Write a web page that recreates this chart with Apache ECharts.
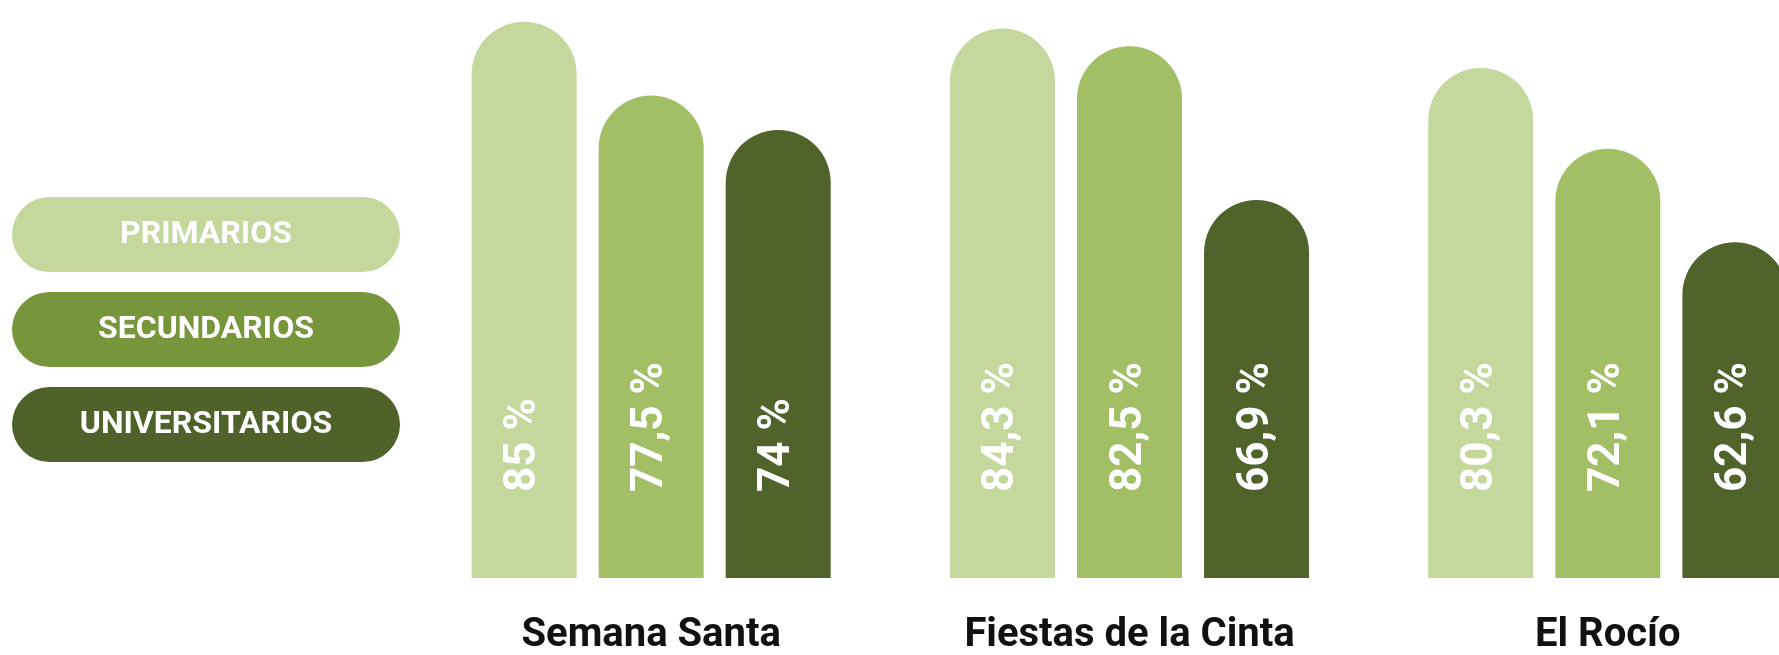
<!DOCTYPE html>
<html>
<head>
<meta charset="utf-8">
<script src="https://cdn.jsdelivr.net/npm/echarts@6/dist/echarts.min.js"></script>
<style>
  html, body { margin: 0; padding: 0; background: #fff; }
  #chart { width: 1779px; height: 655px; }
</style>
</head>
<body>
<div id="chart"></div>
<script>
///Data
var categories = ["Semana Santa", "Fiestas de la Cinta", "El Rocío"];
var seriesNames = ["PRIMARIOS", "SECUNDARIOS", "UNIVERSITARIOS"];
var primarios = [85, 84.3, 80.3];
var secundarios = [77.5, 82.5, 72.1];
var universitarios = [74, 66.9, 62.6];

//Colors
var barColors = ["#c4d79c", "#a2bf66", "#50632a"];
var pillColors = ["#c4d79c", "#77953a", "#4f6229"];
var narrow = "Roboto, 'DejaVu Sans Condensed', sans-serif";

function pct(v) {
    return String(v).replace(".", ",") + " %";
}

function makeSeries(name, values, color) {
    return {
        name: name,
        type: 'bar',
        data: values,
        barWidth: 105,
        barGap: '21%',
        itemStyle: { color: color, borderRadius: [53, 53, 0, 0] },
        label: {
            show: true,
            position: 'insideBottom',
            distance: 86,
            rotate: 90,
            align: 'left',
            verticalAlign: 'middle',
            color: '#fff',
            fontFamily: narrow,
            fontWeight: 'bold',
            fontSize: 44,
            formatter: function (p) { return pct(p.value); }
        }
    };
}

//Legend pills
var pillRich = {};
var pillKeys = ["p", "s", "u"];
for (var i = 0; i < seriesNames.length; i++) {
    pillRich[pillKeys[i]] = {
        width: 388,
        height: 75,
        lineHeight: 75,
        align: 'center',
        backgroundColor: pillColors[i],
        borderRadius: 37.5,
        color: '#fff',
        fontFamily: narrow,
        fontWeight: 'bold',
        fontSize: 32
    };
}

var options = {
    animation: false,
    legend: {
        orient: 'vertical',
        left: 7,
        top: 197,
        padding: 0,
        itemWidth: 0,
        itemHeight: 0,
        itemGap: 20,
        selectedMode: false,
        data: seriesNames,
        formatter: function (name) {
            var k = pillKeys[seriesNames.indexOf(name)];
            return '{' + k + '|' + name + '}';
        },
        textStyle: { rich: pillRich }
    },
    // last bar runs off the right edge in the original
    grid: { left: 412, width: 1435, top: 0, bottom: 77, outerBoundsMode: 'none' },
    xAxis: {
        type: 'category',
        data: categories,
        axisLine: { show: false },
        axisTick: { show: false },
        axisLabel: {
            interval: 0,
            margin: 38,
            color: '#111',
            fontFamily: narrow,
            fontWeight: 'bold',
            fontSize: 40
        }
    },
    yAxis: {
        type: 'value',
        min: 28.5,
        max: 87.2,
        show: false,
        splitLine: { show: false }
    },
    series: [
        makeSeries(seriesNames[0], primarios, barColors[0]),
        makeSeries(seriesNames[1], secundarios, barColors[1]),
        makeSeries(seriesNames[2], universitarios, barColors[2])
    ]
};

var chart = echarts.init(document.getElementById('chart'));
chart.setOption(options);
window.onresize = function () {
    chart.resize();
};
</script>
</body>
</html>
